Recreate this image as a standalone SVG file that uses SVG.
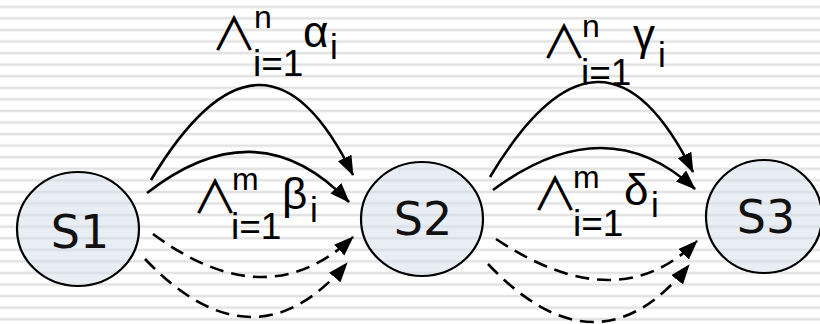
<svg xmlns="http://www.w3.org/2000/svg" width="820" height="324" viewBox="0 0 820 324">
<style>
.node{fill:#d4dcea;fill-opacity:0.5;stroke:#000;stroke-width:2.2}
.nt{font-family:"DejaVu Sans",sans-serif;font-size:46px;fill:#111;text-anchor:middle}
.e{fill:none;stroke:#000;stroke-width:2.6;marker-end:url(#ah)}
.d{stroke-dasharray:14 8}
.lb{font-family:"Liberation Sans",Arial,sans-serif;fill:#000}
.and{font-family:"Noto Sans CJK JP",sans-serif;font-size:46px;fill:#000}
.sup{font-size:32px}
.sub{font-size:37px}
.gr{font-size:44px}
.si{font-size:35px}
</style>
<defs>
<pattern id="stripes" patternUnits="userSpaceOnUse" width="820" height="11.5714">
<rect x="0" y="5.5" width="820" height="2.6" fill="#e2e2e2"/>
</pattern>
<marker id="ah" markerUnits="userSpaceOnUse" markerWidth="22" markerHeight="16" refX="19" refY="7.5" orient="auto">
<path d="M0,0 L20,7.5 L0,15 z" fill="#000"/>
</marker>
</defs>
<rect width="820" height="324" fill="#fff"/>
<rect width="820" height="324" fill="url(#stripes)"/>
<g id="connectors">
<path class="e" d="M151,180 Q264,-7.5 353,175"/>
<path class="e" d="M147,193 Q258,106.5 349,202"/>
<path class="e d" d="M153,234 Q267,318.5 353,237"/>
<path class="e d" d="M145,259 Q254,373 347,263"/>
<path class="e" d="M490,177 Q602.5,-10.5 693,172"/>
<path class="e" d="M493,190 Q606,106.5 695,189"/>
<path class="e d" d="M496,239 Q617.5,320 697,241"/>
<path class="e d" d="M488,264 Q597.5,379.5 689,265"/>
</g>
<g id="label-alpha" class="lb">
<text class="and" x="211" y="50">∧</text>
<text class="sup" x="254" y="28">n</text>
<text class="sub" x="253" y="76">i=1</text>
<text class="gr" x="303" y="47">α</text>
<text class="si" x="330" y="59">i</text>
</g>
<g id="label-beta" class="lb">
<text class="and" x="192" y="213">∧</text>
<text class="sup" x="232" y="190">m</text>
<text class="sub" x="231" y="239">i=1</text>
<text class="gr" x="282" y="209">β</text>
<text class="si" x="310" y="222">i</text>
</g>
<g id="label-gamma" class="lb">
<text class="and" x="541" y="58">∧</text>
<text class="sup" x="582" y="37">n</text>
<text class="sub" x="581" y="85">i=1</text>
<text class="gr" x="633" y="50">γ</text>
<text class="si" x="658" y="67">i</text>
</g>
<g id="label-delta" class="lb">
<text class="and" x="532" y="210">∧</text>
<text class="sup" x="573" y="188">m</text>
<text class="sub" x="573" y="236">i=1</text>
<text class="gr" x="624" y="205">δ</text>
<text class="si" x="651" y="217">i</text>
</g>
<g id="S1">
<ellipse class="node" cx="78" cy="229" rx="61" ry="57"/>
<text class="nt" x="80" y="248">S1</text>
</g>
<g id="S2">
<ellipse class="node" cx="422" cy="219" rx="61" ry="57"/>
<text class="nt" x="423" y="235">S2</text>
</g>
<g id="S3">
<ellipse class="node" cx="764" cy="216.5" rx="58" ry="56.5"/>
<text class="nt" x="766" y="233">S3</text>
</g>
</svg>
